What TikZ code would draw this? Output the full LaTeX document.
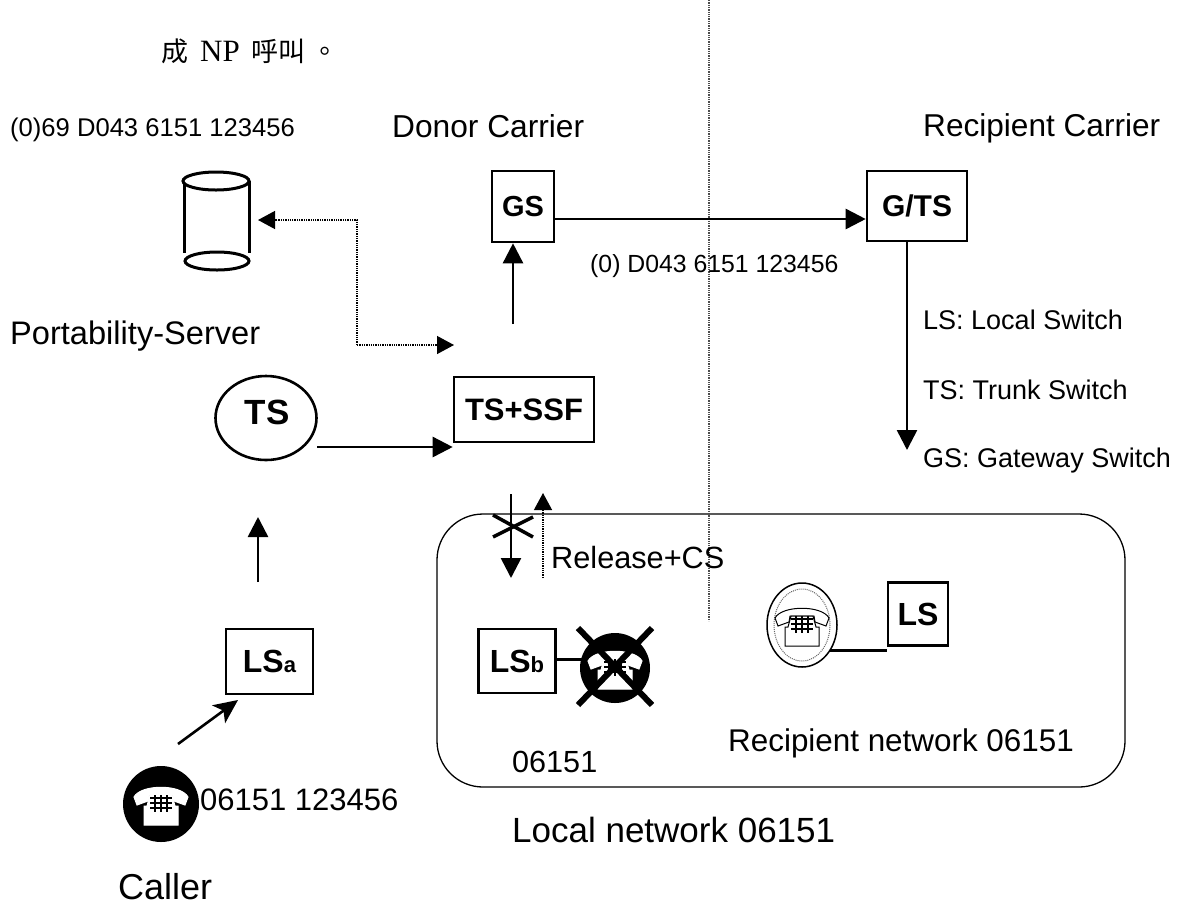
\documentclass[tikz,border=0pt]{standalone}
\usepackage{fontspec}
\setmainfont{Liberation Sans}
\newfontfamily\cjkfont{Noto Sans CJK TC}
\newfontfamily\serifont{Liberation Serif}
\usetikzlibrary{arrows.meta,shapes.geometric}
\tikzset{
         swbox/.style={draw=black,line width=2.6pt,inner sep=0pt,font=\bfseries\fontsize{#1}{#1}\selectfont},
         lbl/.style={inner sep=0pt,anchor=west,font=\fontsize{#1}{#1}\selectfont},
         flow/.style={line width=2.6pt,-{Triangle[length=20pt,width=20pt]}},
         signal/.style={line width=1.3pt,densely dotted,-{Triangle[length=17pt,width=18pt]}},
         stub/.style={line width=3pt}
        }
\newcommand{\phoneglyph}[2]{
\begin{scope}[shift={(#1)}]
\filldraw[fill=white,draw=#2,line width=1pt](-27,-7) .. controls (-20,-20) and (20,-20) .. (27,-7) -- (24,1) -- (13,-3) -- (12,-9) -- (-12,-9) -- (-13,-3) -- (-24,1) -- cycle;
\filldraw[fill=white,draw=#2,line width=1pt](-11,-9) -- (11,-9) -- (14,2) -- (17,2) -- (17,21) -- (-17,21) -- (-17,2) -- (-14,2) -- cycle;
\foreach \ky in {-6,-1,4}{\draw[black,line width=1.2pt](-11,\ky)--(11,\ky);}
\foreach \kx in {-6,0,6}{\draw[black,line width=1.2pt](\kx,-9)--(\kx,8);}
\end{scope}
}
\begin{document}
\begin{tikzpicture}[x=1pt,y=-1pt]
\useasboundingbox (0,0) rectangle (1183,906);
\draw[line width=1.3pt,rounded corners=46pt](437,514) rectangle (1125,787);
\draw[line width=1.3pt,densely dotted,black!70](709,0)--(709,621);
\node[inner sep=0pt,anchor=west,font=\fontsize{27}{29}\selectfont] (head) at (161,51){\cjkfont 成\hspace{12pt}{\serifont\fontsize{31}{31}\selectfont NP}\hspace{12pt}\cjkfont 呼叫\hspace{6pt}。};
\node[lbl=25.6] (portnr) at (10,130){(0)69 D043 6151 123456};
\node[lbl=31.7] (donor) at (392,126){Donor Carrier};
\node[lbl=31.6] (recip) at (923,128){Recipient Carrier};
\node[lbl=24.8] (routenr) at (590,266){(0) D043 6151 123456};
\node[lbl=32.6] (portname) at (10,336){Portability-Server};
\node[lbl=27] (lslegend) at (923,320){LS: Local Switch};
\node[lbl=27] (tslegend) at (923,390){TS: Trunk Switch};
\node[lbl=27] (gslegend) at (923,461){GS: Gateway Switch};
\node[lbl=30.7] (release) at (551,558){Release+CS};
\node[lbl=31] (callernr) at (200,800){06151 123456};
\node[lbl=31.4] (recipnet) at (728,743){Recipient network 06151};
\node[lbl=30.6] (localnr) at (512,762){06151};
\node[lbl=35] (localnet) at (512,830){Local network 06151};
\node[lbl=36] (caller) at (118,887){Caller};
\node[swbox=29,minimum width=62pt,minimum height=71pt] (gs) at (523,206.5){GS};
\node[swbox=30,minimum width=100pt,minimum height=70pt] (gts) at (917,206){G/TS};
\node[swbox=31,minimum width=140pt,minimum height=65pt] (tsssf) at (524,409.5){TS+SSF};
\node[swbox=35,shape=ellipse,minimum width=101pt,minimum height=84pt] (ts) at (266,418){};
\node[font=\bfseries\fontsize{35}{35}\selectfont,inner sep=0pt] (tstext) at (267,412){TS};
\node[swbox=32,minimum width=87pt,minimum height=65pt] (lsa) at (269.5,661.5){LS{\fontsize{22}{22}\selectfont a}};
\node[swbox=32,minimum width=77pt,minimum height=64pt] (lsb) at (517,661){LS{\fontsize{22}{22}\selectfont b}};
\node[swbox=32,minimum width=60pt,minimum height=63pt] (ls) at (918,614){LS};
\node[shape=circle,fill=black,inner sep=0pt,minimum size=76pt] (callerphone) at (161,804){};
\phoneglyph{callerphone}{white}
\node[shape=circle,fill=black,inner sep=0pt,minimum size=70pt] (lostphone) at (615,668){};
\phoneglyph{lostphone}{white}
\node[shape=ellipse,draw=black,line width=1.5pt,inner sep=0pt,minimum width=70pt,minimum height=84pt] (newphone) at (802,625){};
\draw[densely dotted,line width=1pt,black!60](newphone) ellipse (28 and 36);
\phoneglyph{newphone}{black}
\coordinate (lostin) at (582,659);
\draw[stub](lostin-|lsb.east)--(lostin);
\draw[black,line width=6pt](578,628)--(652,705);
\draw[black,line width=6pt](652,628)--(578,705);
\coordinate (newphoneout) at (830,650);
\draw[stub](newphoneout)--(newphoneout-|ls.west);
\draw[line width=3pt](184,181)--(184,253);
\draw[line width=3pt](249,181)--(249,253);
\draw[line width=3pt,fill=white](216,181) ellipse (33 and 9);
\draw[line width=3pt,fill=white](217,261) ellipse (32 and 9);
\coordinate (serverport) at (258,220);
\coordinate (signalbend) at (357,345);
\coordinate (signalend) at (454,345);
\draw[signal](signalbend)--(signalbend|-serverport)--(serverport);
\draw[signal](signalbend)--(signalend);
\coordinate (tsout) at (317,447);
\coordinate (ssfup) at (513,324);
\coordinate (lsaup) at (258,582);
\coordinate (tsin) at (258,517);
\coordinate (phoneout) at (178,744);
\coordinate (lsain) at (238,700);
\coordinate (gsout) at (523,219);
\coordinate (gtsout) at (907,206);
\coordinate (gtsdown) at (907,450);
\coordinate (cutstart) at (511,494);
\coordinate (cutend) at (511,578);
\coordinate (backstart) at (543,578);
\coordinate (backend) at (543,493);
\draw[flow](tsout)--(tsout-|tsssf.west);
\draw[flow](lsaup)--(tsin);
\draw[line width=2.6pt,-{Stealth[length=24pt,width=22pt,inset=6pt]}](phoneout)--(lsain);
\draw[flow](ssfup)--(ssfup|-gs.south);
\draw[flow](gsout-|gs.east)--(gsout-|gts.west);
\draw[flow](gtsout|-gts.south)--(gtsdown);
\draw[flow](cutstart)--(cutend);
\draw[signal](backstart)--(backend);
\draw[line width=3.5pt](493,515)--(533,537);
\draw[line width=3.5pt](493,537)--(533,517);
\end{tikzpicture}
\end{document}
